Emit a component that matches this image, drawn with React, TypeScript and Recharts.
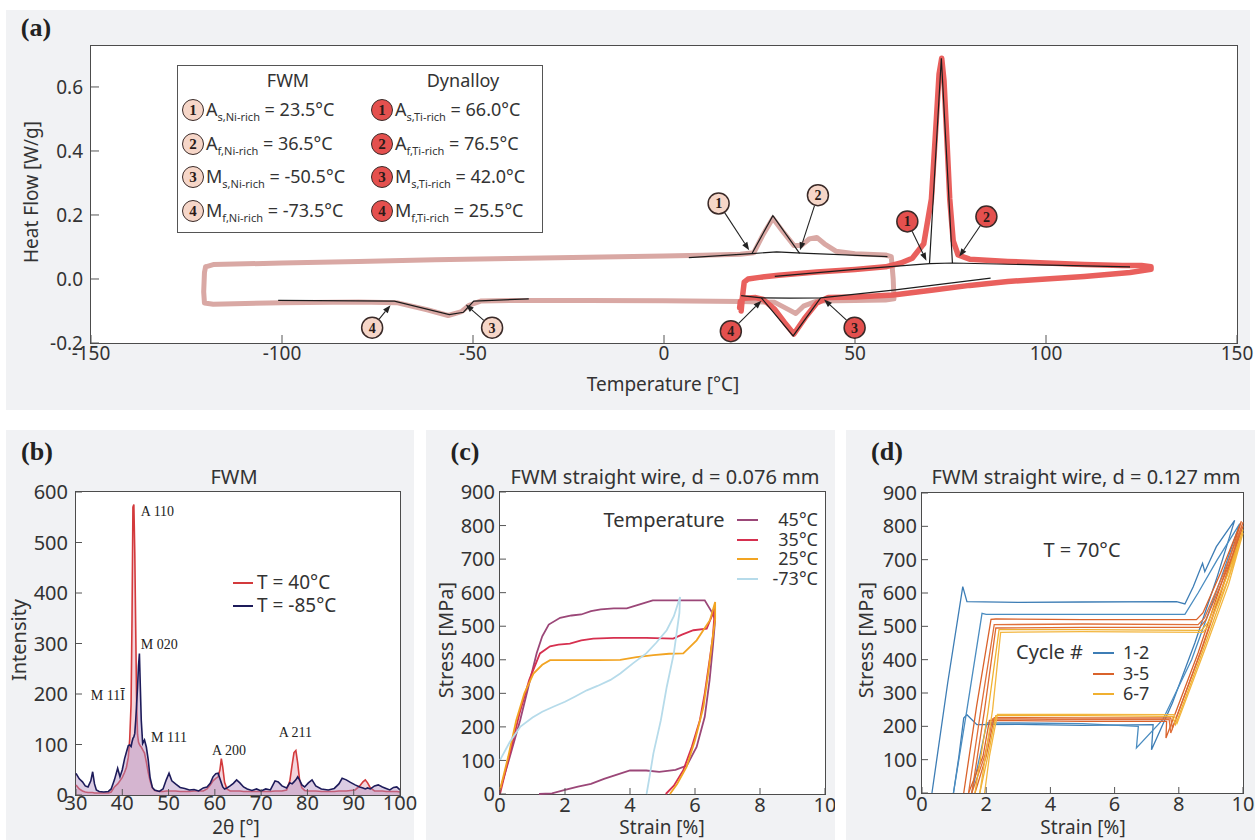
import React from "react";
import {
  Area,
  ComposedChart,
  Line,
  LineChart,
  ReferenceDot,
  ReferenceLine,
  XAxis,
  YAxis,
} from "recharts";

const SANS = "'Noto Sans', 'DejaVu Sans', sans-serif";
const SERIF = "'Liberation Serif', 'DejaVu Serif', serif";
const PANEL = "#f1f2f4";
const INK = "#333";

// ---------- (a) DSC ----------
const dscTempTicks = [-150, -100, -50, 0, 50, 100, 150];
const dscFlowTicks = [-0.2, 0, 0.2, 0.4, 0.6];

const fwmLoop = [
  [-120, 0.038], [-118, 0.045], [-100, 0.05], [-80, 0.055], [-60, 0.06], [-40, 0.064],
  [-20, 0.068], [0, 0.072], [10, 0.074], [20, 0.077], [23.5, 0.082], [26, 0.14], [28.5, 0.19],
  [31, 0.15], [34, 0.105], [36, 0.105], [38, 0.125], [40, 0.13], [42, 0.11], [45, 0.087],
  [50, 0.079], [58, 0.075], [59.5, 0.07], [60, 0.0], [60.2, -0.062], [58, -0.066], [50, -0.067],
  [40, -0.069], [36.5, -0.085], [34.5, -0.108], [32.5, -0.095], [29, -0.073], [20, -0.07],
  [0, -0.068], [-20, -0.067], [-40, -0.067], [-48, -0.069], [-51, -0.082], [-53, -0.102],
  [-56.5, -0.114], [-62, -0.096], [-70, -0.074], [-80, -0.072], [-100, -0.074], [-118, -0.079],
  [-120.3, -0.075], [-120.5, -0.04], [-120.3, 0.02], [-120, 0.038],
];
const dynLoop = [
  [20.2, -0.1], [20.5, -0.06], [21, -0.01], [22, 0.0], [25, 0.005], [30, 0.012], [40, 0.022],
  [50, 0.03], [58, 0.038], [62, 0.05], [65, 0.065], [68, 0.11], [70, 0.25], [71.3, 0.5],
  [72, 0.64], [72.7, 0.69], [73.3, 0.62], [74, 0.45], [74.8, 0.25], [75.7, 0.12], [77, 0.075],
  [80, 0.062], [90, 0.055], [100, 0.05], [110, 0.045], [120, 0.042], [125, 0.042],
  [127.5, 0.038], [127.5, 0.03], [122, 0.02], [110, 0.008], [100, 0.0], [90, -0.008],
  [80, -0.02], [70, -0.035], [60, -0.05], [50, -0.056], [43, -0.058], [40, -0.075],
  [37, -0.12], [34, -0.172], [31.5, -0.135], [29, -0.095], [26, -0.064], [24, -0.058],
  [21, -0.06], [20, -0.07], [19.8, -0.09],
];
const fwmHeatBase = [[6.5, 0.067], [23, 0.079], [29.5, 0.085], [36, 0.081], [58.5, 0.07]];
const fwmHeatPeak = [[23, 0.079], [28.5, 0.198], [35.5, 0.08]];
const fwmCoolPeak = [[-101, -0.067], [-70.6, -0.069], [-56.2, -0.111], [-52.5, -0.104], [-49.8, -0.069], [-35.4, -0.062]];
const dynHeatBase = [[29, 0.008], [50, 0.03], [69.5, 0.048], [75.5, 0.05], [90, 0.046], [122, 0.038]];
const dynHeatPeak = [[69.5, 0.048], [72.6, 0.69], [75.5, 0.05]];
const dynCoolBase = [[20.2, -0.052], [25.5, -0.059], [33, -0.06], [41, -0.059], [60, -0.035], [85.5, 0.003]];
const dynCoolPeak = [[25.5, -0.059], [33.8, -0.178], [41, -0.059]];

const fwmMarks = [
  { n: 1, at: [14.3, 0.236], to: [22.3, 0.09] },
  { n: 2, at: [40.3, 0.262], to: [35.6, 0.09] },
  { n: 3, at: [-45, -0.152], to: [-51.9, -0.08] },
  { n: 4, at: [-76.4, -0.152], to: [-71.6, -0.082] },
];
const dynMarks = [
  { n: 1, at: [63.7, 0.18], to: [68.7, 0.057] },
  { n: 2, at: [84.4, 0.195], to: [77.3, 0.07] },
  { n: 3, at: [49.9, -0.152], to: [41.9, -0.064] },
  { n: 4, at: [17.5, -0.163], to: [25.5, -0.068] },
];

const fwmTemps = [
  ["A", "s,Ni-rich", "23.5"],
  ["A", "f,Ni-rich", "36.5"],
  ["M", "s,Ni-rich", "-50.5"],
  ["M", "f,Ni-rich", "-73.5"],
];
const dynTemps = [
  ["A", "s,Ti-rich", "66.0"],
  ["A", "f,Ti-rich", "76.5"],
  ["M", "s,Ti-rich", "42.0"],
  ["M", "f,Ti-rich", "25.5"],
];

// ---------- (b) XRD ----------
const xrdTheta = [
  30, 30.7, 31.4, 32, 32.6, 33.2, 33.6, 34, 34.4, 35, 36, 37, 37.6, 38.3, 39, 39.5, 40, 40.5,
  40.9, 41.3, 41.6, 41.9, 42.1, 42.3, 42.5, 42.7, 42.9, 43.1, 43.3, 43.5, 43.7, 43.9, 44.1, 44.4,
  44.8, 45.2, 45.6, 46, 46.5, 47, 48, 48.8, 49.5, 50.1, 50.7, 51.5, 52.5, 53.5, 54.5, 55.5, 56.5,
  57.5, 58.3, 59, 59.6, 60.2, 60.7, 61.1, 61.4, 61.7, 62.1, 62.6, 63.3, 64, 64.7, 65.4, 66.2, 67,
  68, 69, 70, 71, 72, 73, 73.7, 74.5, 75.5, 76.2, 76.7, 77.1, 77.5, 77.9, 78.3, 78.8, 79.4, 80.2,
  81, 81.8, 83, 84.5, 85.8, 86.8, 87.5, 88.4, 89.3, 90.3, 91.3, 92, 92.5, 93, 93.6, 94.5, 95.3,
  96.2, 97, 97.8, 98.6, 99.3, 100,
];
const xrdHot = [
  20, 12, 8, 6, 5, 5, 5, 4, 4, 4, 4, 4, 6, 16, 22, 28, 35, 45,
  55, 75, 110, 180, 346, 570, 575, 480, 330, 181, 120, 105, 100, 97, 95, 90,
  83, 65, 45, 28, 14, 9, 7, 7, 8, 8, 8, 8, 7, 7, 7, 8, 8,
  8, 12, 20, 28, 33, 36, 50, 72, 55, 25, 12, 8, 8, 8, 8, 7, 7,
  7, 7, 7, 7, 7, 8, 8, 8, 10, 28, 60, 84, 88, 63, 30, 14, 9, 8,
  8, 8, 7, 7, 7, 8, 8, 8, 9, 10, 18, 26, 30, 24, 14, 8, 8,
  8, 7, 7, 7, 7, 6,
];
const xrdCold = [
  43, 32, 26, 18, 16, 28, 46, 22, 10, 7, 6, 7, 12, 30, 53, 36, 50, 72,
  85, 98, 99, 96, 105, 112, 115, 122, 148, 180, 214, 255, 280, 214, 148, 102,
  109, 95, 70, 35, 15, 10, 7, 12, 30, 43, 28, 22, 15, 13, 10, 11, 8,
  14, 16, 23, 36, 42, 43, 32, 24, 16, 12, 14, 18, 23, 30, 24, 16, 12,
  9, 12, 8, 12, 10, 28, 26, 18, 14, 24, 22, 26, 30, 36, 30, 20, 16, 24,
  30, 18, 12, 10, 13, 22, 33, 30, 25, 20, 16, 14, 12, 14, 12, 18, 20,
  16, 13, 10, 15, 16, 10,
];
const xrdNotes = [
  { label: "A 110", t: 44, i: 563 },
  { label: "M 020", t: 44, i: 300 },
  { label: "M 11\u012A", t: 33.2, i: 198 },
  { label: "M 111", t: 46.2, i: 115 },
  { label: "A 200", t: 59.4, i: 89 },
  { label: "A 211", t: 73.8, i: 125 },
];

// ---------- (c) stress-strain vs temperature ----------
const c45 = [
  [0, 12], [0.3, 110], [0.62, 220], [0.9, 330], [1.13, 420], [1.3, 470], [1.5, 505], [1.85, 525],
  [2.2, 532], [2.5, 535], [2.8, 545], [3.1, 550], [3.5, 553], [3.9, 553], [4.3, 565], [4.7, 577],
  [5.2, 577], [5.8, 577], [6.3, 577], [6.5, 545], [6.62, 520], [6.55, 440], [6.45, 340], [6.3, 230],
  [6.05, 140], [5.75, 85], [5.4, 72], [4.9, 66], [4.5, 70], [4.0, 70], [3.6, 58], [3.2, 45],
  [2.8, 30], [2.4, 22], [2.0, 12], [1.6, 2], [1.2, 0],
];
const c35 = [
  [0, 0], [0.3, 120], [0.6, 240], [0.9, 340], [1.23, 419], [1.54, 440], [1.8, 445], [2.15, 448],
  [2.5, 458], [2.87, 463], [3.5, 465], [4.5, 465], [5.33, 463], [5.6, 475], [5.95, 488], [6.36, 493],
  [6.56, 540], [6.62, 560], [6.55, 470], [6.45, 400], [6.3, 300], [6.15, 220], [5.9, 140], [5.64, 71],
  [5.35, 25], [5.1, 0],
];
const c25 = [
  [0, 12], [0.25, 110], [0.5, 220], [0.75, 300], [1.03, 359], [1.3, 385], [1.54, 399], [2.15, 399],
  [3.0, 399], [3.7, 400], [4.2, 408], [4.72, 414], [5.2, 418], [5.64, 419], [6.05, 458], [6.46, 518],
  [6.62, 572], [6.62, 520], [6.56, 478], [6.42, 370], [6.26, 260], [6.0, 160], [5.74, 81], [5.45, 30],
  [5.23, 0],
];
const cm73 = [
  [0, 101], [0.3, 155], [0.62, 200], [1.0, 228], [1.3, 245], [1.64, 260], [2.0, 275], [2.3, 290],
  [2.67, 309], [3.0, 322], [3.4, 340], [3.7, 359], [4.1, 390], [4.5, 419], [4.8, 450], [5.13, 488],
  [5.35, 530], [5.54, 587], [5.52, 540], [5.35, 420], [5.13, 319], [4.95, 220], [4.72, 121],
  [4.6, 50], [4.51, 0],
];
const tempSeries = [
  { name: "45°C", data: c45, color: "#9b4778" },
  { name: "35°C", data: c35, color: "#d6304f" },
  { name: "25°C", data: c25, color: "#f2a422" },
  { name: "-73°C", data: cm73, color: "#b6dbea" },
];

// ---------- (d) cycling at 70 C ----------
const d1 = [[0.31, 0], [0.8, 330], [1.27, 619], [1.4, 574], [3, 572], [5, 573], [7.93, 574], [8.19, 567], [8.45, 619], [8.74, 689], [8.81, 664], [9.17, 739], [9.74, 818], [9.2, 650], [8.5, 450], [7.8, 270], [7.15, 130], [7.2, 205], [5, 203], [3, 206], [1.71, 205], [1.4, 235], [1.3, 225], [1.15, 110], [0.98, 0]];
const d2 = [[0.98, 0], [1.4, 250], [1.87, 539], [2, 536], [5, 536], [8.19, 536], [8.6, 600], [9.2, 700], [9.9, 808], [9.3, 640], [8.4, 400], [7.5, 220], [6.68, 135], [6.74, 200], [5, 208], [3, 210], [2.02, 210], [1.8, 110], [1.55, 0]];
const d3 = [[1.3, 0], [1.7, 260], [2.15, 521], [2.3, 522], [5, 520], [8.55, 520], [8.75, 540], [9.3, 660], [9.95, 815], [9.4, 650], [8.6, 420], [7.6, 165], [7.62, 215], [5, 215], [3, 217], [2.1, 218], [1.9, 110], [1.45, 0]];
const d4 = [[1.45, 0], [1.85, 260], [2.25, 505], [5, 507], [8.6, 505], [8.8, 525], [9.4, 660], [10, 812], [9.5, 660], [8.7, 430], [7.75, 180], [7.7, 220], [5, 220], [3, 222], [2.2, 222], [1.95, 110], [1.55, 0]];
const d5 = [[1.55, 0], [1.95, 250], [2.3, 495], [5, 497], [8.65, 497], [8.85, 520], [9.5, 670], [10, 800], [9.45, 640], [8.75, 440], [7.8, 195], [7.75, 225], [5, 225], [3, 226], [2.25, 226], [2.0, 110], [1.65, 0]];
const d6 = [[1.65, 0], [2.05, 240], [2.4, 490], [5, 490], [8.7, 488], [8.9, 510], [9.5, 650], [10, 790], [9.5, 630], [8.8, 440], [7.9, 205], [7.8, 230], [5, 232], [3, 232], [2.3, 232], [2.05, 110], [1.8, 0]];
const d7 = [[1.8, 0], [2.2, 250], [2.45, 482], [5, 484], [8.75, 482], [8.95, 505], [9.55, 645], [10, 780], [9.55, 625], [8.85, 440], [7.95, 210], [7.85, 235], [5, 236], [3, 236], [2.35, 236], [2.1, 110], [1.95, 0]];
const cycleSeries = [
  { data: d1, color: "#3d7db5" },
  { data: d2, color: "#4a8cc0" },
  { data: d3, color: "#d9622b" },
  { data: d4, color: "#e0703a" },
  { data: d5, color: "#dd6a30" },
  { data: d6, color: "#f0b030" },
  { data: d7, color: "#f3b63f" },
];
const cycleLegend = [
  { name: "1-2", color: "#3d7db5" },
  { name: "3-5", color: "#d9622b" },
  { name: "6-7", color: "#f0b030" },
];

const strainTicks = [0, 2, 4, 6, 8, 10];
const stressTicks = [0, 100, 200, 300, 400, 500, 600, 700, 800, 900];
const thetaTicks = [30, 40, 50, 60, 70, 80, 90, 100];
const intensityTicks = [0, 100, 200, 300, 400, 500, 600];

const pts = (a: number[][]) => a.map(([x, y]) => ({ x, y }));

const Arrow = (p: any) => {
  const { x1, y1, x2, y2 } = p;
  const dx = x2 - x1;
  const dy = y2 - y1;
  const len = Math.hypot(dx, dy) || 1;
  const ux = dx / len;
  const uy = dy / len;
  const sx = x1 + ux * 11;
  const sy = y1 + uy * 11;
  const bx = x2 - ux * 8;
  const by = y2 - uy * 8;
  return (
    <g>
      <line x1={sx} y1={sy} x2={bx} y2={by} stroke="#222" strokeWidth={1.1} />
      <polygon
        points={`${x2},${y2} ${bx - uy * 3},${by + ux * 3} ${bx + uy * 3},${by - ux * 3}`}
        fill="#222"
      />
    </g>
  );
};

const Badge = ({ cx, cy, n, fill }: any) => (
  <g>
    <circle cx={cx} cy={cy} r={10.5} fill={fill} stroke="#3a2a28" strokeWidth={1.5} />
    <text x={cx} y={cy + 5} textAnchor="middle" fontFamily={SERIF} fontWeight="bold" fontSize={14} fill="#2a1a18">
      {n}
    </text>
  </g>
);

const Txt = ({ x, y, children, size = 20, rot = 0, family = SANS, weight = 400, anchor = "center", color = INK, lh = 1.1 }: any) => (
  <div
    style={{
      position: "absolute",
      left: x,
      top: y,
      transform: `translate(${anchor === "center" ? -50 : anchor === "end" ? -100 : 0}%, -50%) rotate(${rot}deg)`,
      fontSize: size,
      fontFamily: family,
      fontWeight: weight,
      whiteSpace: "nowrap",
      lineHeight: lh,
      color,
    }}
  >
    {children}
  </div>
);

const Box = ({ x, y, w, h }: any) => (
  <div
    style={{
      position: "absolute",
      left: x,
      top: y,
      width: w,
      height: h,
      background: "#fff",
      border: "1.5px solid #4c4c4c",
      boxSizing: "border-box",
    }}
  />
);

const LegendBadge = ({ n, fill }: any) => (
  <div
    style={{
      position: "absolute",
      width: 20,
      height: 20,
      borderRadius: "50%",
      border: "1.5px solid #3a2a28",
      background: fill,
      fontFamily: SERIF,
      fontWeight: "bold",
      fontSize: 15,
      lineHeight: "20px",
      textAlign: "center",
      color: "#2a1a18",
      transform: "translate(-50%, -50%)",
    }}
  >
    {n}
  </div>
);

const PINK = "#f6d6c8";
const RED = "#e4504e";

const tickA = { fontSize: 19, fill: INK, fontFamily: SANS };
const tickB = { fontSize: 20, fill: INK, fontFamily: SANS };
const abs = (left: number, top: number): React.CSSProperties => ({ position: "absolute", left, top });

const bRows = [582, 605];
const cRows = [519, 538.5, 558, 577.5];
const dRows = [652, 672.5, 693];

export default function App() {
  const xrdRows = xrdTheta.map((t, i) => ({ t, hot: xrdHot[i], cold: xrdCold[i] }));
  const marks = [...fwmMarks.map((m) => ({ ...m, fill: PINK })), ...dynMarks.map((m) => ({ ...m, fill: RED }))];
  return (
    <div style={{ position: "absolute", left: 0, top: 0, width: 1255, height: 840, background: "#fff", overflow: "hidden", fontFamily: SANS }}>
      {/* panel backgrounds */}
      <div style={{ ...abs(6, 10), width: 1244, height: 400, background: PANEL }} />
      <div style={{ ...abs(6, 430), width: 408, height: 410, background: PANEL }} />
      <div style={{ ...abs(426, 430), width: 409, height: 410, background: PANEL }} />
      <div style={{ ...abs(846, 430), width: 409, height: 410, background: PANEL }} />

      <Box x={90} y={45} w={1148} h={299} />
      <Box x={75} y={491} w={326} h={305} />
      <Box x={499} y={491} w={327} h={304} />
      <Box x={921} y={492} w={323} h={302} />

      {/* (a) DSC */}
      <div style={abs(0, 0)}>
        <LineChart width={1255} height={420} margin={{ top: 46, right: 16, bottom: 47, left: 31 }}>
          <XAxis dataKey="x" type="number" domain={[-150, 150]} ticks={dscTempTicks} interval={0} tick={tickA}
            tickSize={-8} tickMargin={12} axisLine={false} tickLine={{ stroke: "#555" }} height={30} allowDataOverflow />
          <YAxis type="number" domain={[-0.2, 0.728]} ticks={dscFlowTicks} interval={0} tick={tickA}
            tickFormatter={(v: number) => v.toFixed(1)} tickSize={-8} tickMargin={16} axisLine={false}
            tickLine={{ stroke: "#555" }} width={60} allowDataOverflow />
          <YAxis yAxisId="r" orientation="right" type="number" domain={[-0.2, 0.728]} ticks={dscFlowTicks}
            interval={0} tick={false} tickSize={-8} axisLine={false} tickLine={{ stroke: "#555" }} width={2} />
          <Line data={pts(fwmLoop)} dataKey="y" type="linear" dot={false} stroke="#d9a8a4" strokeWidth={5}
            strokeLinejoin="round" strokeLinecap="round" isAnimationActive={false} />
          <Line data={pts(dynLoop)} dataKey="y" type="linear" dot={false} stroke="#e9605d" strokeWidth={5.5}
            strokeLinejoin="round" strokeLinecap="round" isAnimationActive={false} />
          {[fwmHeatBase, fwmHeatPeak, fwmCoolPeak, dynHeatBase, dynHeatPeak, dynCoolBase, dynCoolPeak].map((s, i) => (
            <Line key={`k${i}`} data={pts(s)} dataKey="y" type="linear" dot={false} stroke="#1c1c1c"
              strokeWidth={1.2} isAnimationActive={false} />
          ))}
          {marks.map((m, i) => (
            <ReferenceLine key={`ar${i}`} segment={[{ x: m.at[0], y: m.at[1] }, { x: m.to[0], y: m.to[1] }]}
              shape={(p: any) => <Arrow {...p} />} ifOverflow="visible" />
          ))}
          {marks.map((m, i) => (
            <ReferenceDot key={`bd${i}`} x={m.at[0]} y={m.at[1]} r={10}
              shape={(p: any) => <Badge cx={p.cx} cy={p.cy} n={m.n} fill={m.fill} />} ifOverflow="visible" />
          ))}
        </LineChart>
      </div>

      {/* (a) legend box */}
      <div style={{ ...abs(177, 65), width: 366, height: 168, border: "1.5px solid #555", background: "#fff", boxSizing: "border-box" }} />
      <Txt x={288} y={81} size={18}>FWM</Txt>
      <Txt x={463} y={81} size={18}>Dynalloy</Txt>
      {fwmTemps.map((r, i) => (
        <React.Fragment key={`fl${i}`}>
          <div style={abs(193, 110 + i * 33.5)}><LegendBadge n={i + 1} fill={PINK} /></div>
          <Txt x={206} y={110 + i * 33.5} size={18} anchor="start">
            {r[0]}<span style={{ fontSize: 11, position: "relative", top: 5 }}>{r[1]}</span> = {r[2]}°C
          </Txt>
        </React.Fragment>
      ))}
      {dynTemps.map((r, i) => (
        <React.Fragment key={`dl${i}`}>
          <div style={abs(382, 110 + i * 33.5)}><LegendBadge n={i + 1} fill={RED} /></div>
          <Txt x={395} y={110 + i * 33.5} size={18} anchor="start">
            {r[0]}<span style={{ fontSize: 11, position: "relative", top: 5 }}>{r[1]}</span> = {r[2]}°C
          </Txt>
        </React.Fragment>
      ))}

      <Txt x={36} y={28} size={26} family={SERIF} weight={700} color="#222">(a)</Txt>
      <Txt x={31} y={192} size={19} rot={-90}>Heat Flow [W/g]</Txt>
      <Txt x={663} y={384} size={19}>Temperature [°C]</Txt>

      {/* (b) XRD */}
      <div style={abs(0, 420)}>
        <ComposedChart width={422} height={420} data={xrdRows} margin={{ top: 70, right: 20, bottom: 15, left: 21 }}>
          <XAxis dataKey="t" type="number" domain={[30, 100]} ticks={thetaTicks} interval={0} tick={tickB}
            tickSize={-6} tickMargin={7} axisLine={false} tickLine={{ stroke: "#555" }} height={30} />
          <XAxis xAxisId="top" orientation="top" type="number" domain={[30, 100]} ticks={thetaTicks} interval={0}
            tick={false} tickSize={-6} axisLine={false} tickLine={{ stroke: "#555" }} height={2} />
          <YAxis type="number" domain={[0, 600]} ticks={intensityTicks} interval={0} tick={tickB}
            tickSize={-6} tickMargin={14} axisLine={false} tickLine={{ stroke: "#555" }} width={55} />
          <YAxis yAxisId="r" orientation="right" type="number" domain={[0, 600]} ticks={intensityTicks} interval={0}
            tick={false} tickSize={-6} axisLine={false} tickLine={{ stroke: "#555" }} width={2} />
          <Area dataKey="hot" type="linear" stroke="#d33a3c" strokeWidth={1.6} fill="#e7a3b3" fillOpacity={0.45}
            dot={false} isAnimationActive={false} />
          <Area dataKey="cold" type="linear" stroke="#1d1b5a" strokeWidth={1.6} fill="#b08ec0" fillOpacity={0.45}
            dot={false} isAnimationActive={false} />
          {xrdNotes.map((n, i) => (
            <ReferenceDot key={`xn${i}`} x={n.t} y={n.i} r={0} ifOverflow="visible"
              shape={(p: any) => (
                <text x={p.cx} y={p.cy + 5} fontFamily={SERIF} fontSize={14} fill="#222">{n.label}</text>
              )} />
          ))}
        </ComposedChart>
      </div>
      <Txt x={37} y={452} size={26} family={SERIF} weight={700} color="#222">(b)</Txt>
      <Txt x={234} y={477} size={20}>FWM</Txt>
      <Txt x={19} y={640} size={20} rot={-90}>Intensity</Txt>
      <Txt x={236} y={827} size={19} lh={1}>2θ [°]</Txt>
      <div style={{ ...abs(233, bRows[0]), width: 20, borderTop: "2px solid #d33a3c" }} />
      <div style={{ ...abs(233, bRows[1]), width: 20, borderTop: "2px solid #1d1b5a" }} />
      <Txt x={257} y={bRows[0] + 1} size={19} anchor="start" lh={0.9}>T =  40°C</Txt>
      <Txt x={257} y={bRows[1] + 1} size={19} anchor="start" lh={0.9}>T = -85°C</Txt>

      {/* (c) temperature series */}
      <div style={abs(420, 420)}>
        <LineChart width={415} height={420} margin={{ top: 72, right: 10, bottom: 16, left: 25 }}>
          <XAxis dataKey="x" type="number" domain={[0, 10]} ticks={strainTicks} interval={0} tick={tickB}
            tickSize={-6} tickMargin={10} axisLine={false} tickLine={{ stroke: "#555" }} height={30} />
          <YAxis type="number" domain={[0, 900]} ticks={stressTicks} interval={0} tick={tickB}
            tickSize={-6} tickMargin={11} axisLine={false} tickLine={{ stroke: "#555" }} width={55} />
          {tempSeries.map((s) => (
            <Line key={s.name} data={pts(s.data)} dataKey="y" type="linear" dot={false} stroke={s.color}
              strokeWidth={1.8} isAnimationActive={false} />
          ))}
        </LineChart>
      </div>
      <Txt x={465} y={452} size={26} family={SERIF} weight={700} color="#222">(c)</Txt>
      <Txt x={665} y={477} size={20}>FWM straight wire, d = 0.076 mm</Txt>
      <Txt x={446} y={640} size={20} rot={-90}>Stress [MPa]</Txt>
      <Txt x={662} y={827} size={19} lh={1}>Strain [%]</Txt>
      <Txt x={664} y={520} size={20} lh={1}>Temperature</Txt>
      {tempSeries.map((s, i) => (
        <React.Fragment key={`tl${i}`}>
          <div style={{ ...abs(737, cRows[i]), width: 21, borderTop: `2px solid ${s.color}` }} />
          <Txt x={818} y={cRows[i]} size={18} anchor="end" lh={0.9}>{s.name}</Txt>
        </React.Fragment>
      ))}

      {/* (d) cycles */}
      <div style={abs(840, 420)}>
        <LineChart width={415} height={420} margin={{ top: 71, right: 12, bottom: 17, left: 27 }}>
          <XAxis dataKey="x" type="number" domain={[0, 10]} ticks={strainTicks} interval={0} tick={tickB}
            tickSize={-6} tickMargin={10} axisLine={false} tickLine={{ stroke: "#555" }} height={30} />
          <XAxis xAxisId="top" orientation="top" type="number" domain={[0, 10]} ticks={strainTicks} interval={0}
            tick={false} tickSize={-6} axisLine={false} tickLine={{ stroke: "#555" }} height={2} />
          <YAxis type="number" domain={[0, 900]} ticks={stressTicks} interval={0} tick={tickB}
            tickSize={-6} tickMargin={11} axisLine={false} tickLine={{ stroke: "#555" }} width={55} />
          {cycleSeries.map((s, i) => (
            <Line key={`cy${i}`} data={pts(s.data)} dataKey="y" type="linear" dot={false} stroke={s.color}
              strokeWidth={1.3} isAnimationActive={false} />
          ))}
        </LineChart>
      </div>
      <Txt x={887} y={452} size={26} family={SERIF} weight={700} color="#222">(d)</Txt>
      <Txt x={1086} y={477} size={20}>FWM straight wire, d = 0.127 mm</Txt>
      <Txt x={866} y={640} size={20} rot={-90}>Stress [MPa]</Txt>
      <Txt x={1083} y={827} size={19} lh={1}>Strain [%]</Txt>
      <Txt x={1082} y={550} size={20}>T = 70°C</Txt>
      <Txt x={1083} y={652} size={20} anchor="end" lh={1}>Cycle #</Txt>
      {cycleLegend.map((s, i) => (
        <React.Fragment key={`cl${i}`}>
          <div style={{ ...abs(1093, dRows[i]), width: 21, borderTop: `2px solid ${s.color}` }} />
          <Txt x={1123} y={dRows[i]} size={18} anchor="start" lh={0.9}>{s.name}</Txt>
        </React.Fragment>
      ))}
    </div>
  );
}
